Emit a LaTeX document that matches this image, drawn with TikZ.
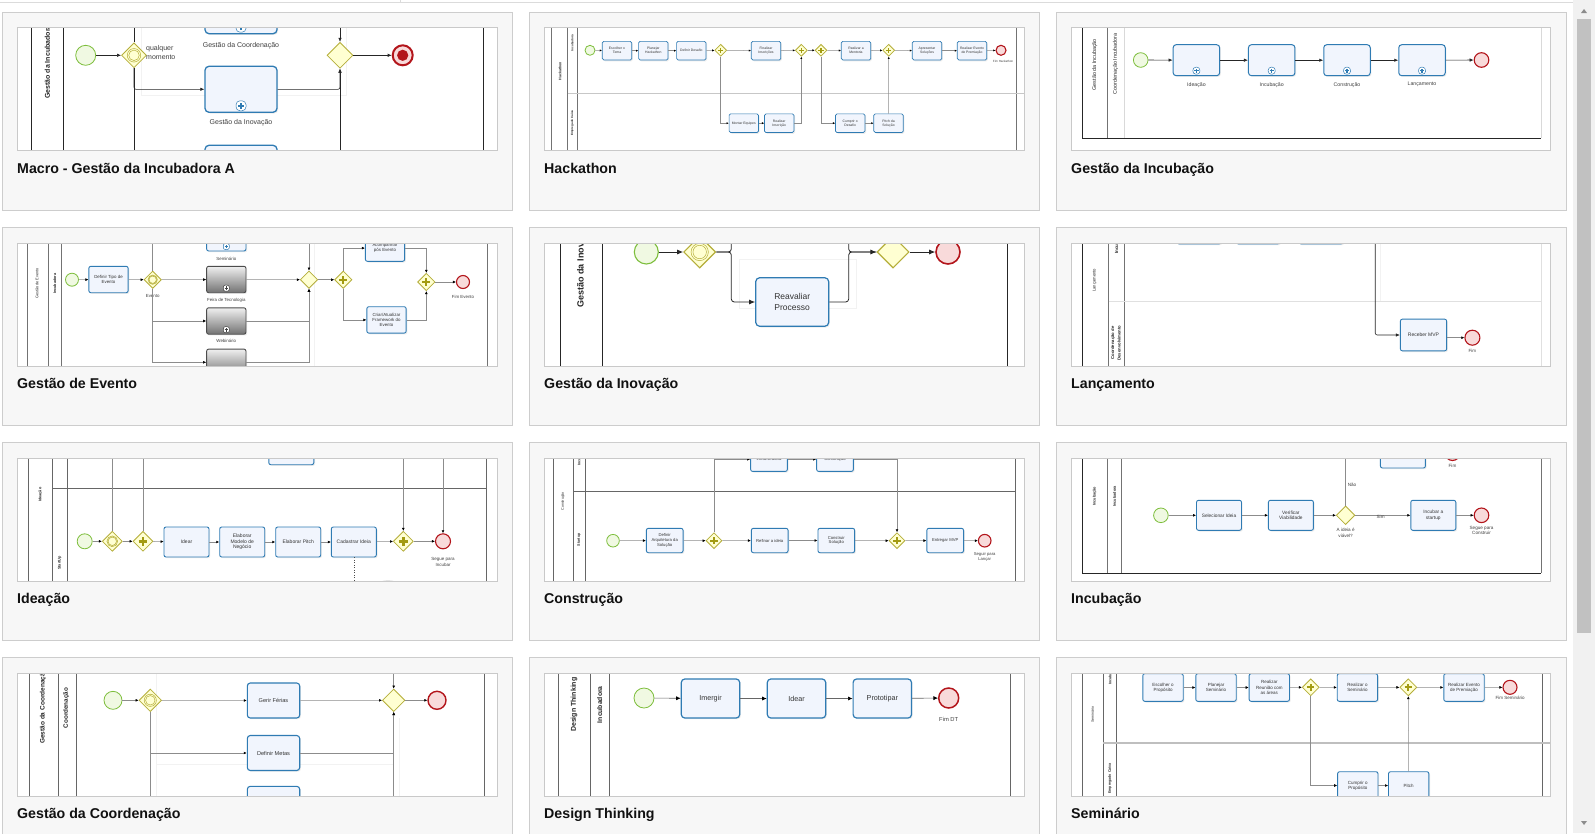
\documentclass[tikz,border=0pt]{standalone}
\usepackage{fontspec}
\setmainfont{Liberation Sans}
\usetikzlibrary{arrows.meta, positioning, shapes.geometric, shadows}
\definecolor{cardfill}{HTML}{F7F7F7}
\definecolor{cardline}{HTML}{CDCDCD}
\definecolor{thumbline}{HTML}{C9C9C9}
\definecolor{titlec}{HTML}{111111}
\definecolor{taskline}{HTML}{2F7BB3}
\definecolor{taskfill}{HTML}{F1F5FD}
\definecolor{gateline}{HTML}{B5AE3A}
\definecolor{gatefill}{HTML}{FFFFD2}
\definecolor{plusc}{HTML}{A39B12}
\definecolor{startline}{HTML}{7DBE3C}
\definecolor{startfill}{HTML}{F0F9E2}
\definecolor{endline}{HTML}{B3151B}
\definecolor{endfill}{HTML}{F8DADA}
\definecolor{scrolltrack}{HTML}{F1F1F1}
\definecolor{scrollthumb}{HTML}{C1C1C1}
\newcommand\fsz[2]{\fontsize{#1}{#2}\selectfont}

\begin{document}
\begin{tikzpicture}[x=1pt,y=-1pt,
  card/.style={draw=cardline, fill=cardfill, line width=0.8pt},
  thumbframe/.style={draw=thumbline, line width=0.8pt},
  cardtitle/.style={anchor=base west, inner sep=0pt, text=titlec, font=\bfseries\fsz{14.2}{16}},
  lane/.style={draw=black!85, line width=0.8pt},
  glane/.style={draw=black!55, line width=0.6pt},
  faint/.style={draw=black!5, line width=0.6pt},
  lanelab/.style={rotate=90, inner sep=0pt, align=center, text=black!85, font=\bfseries\fsz{4}{4.6}},
  task/.style={rectangle, rounded corners=2pt, draw=taskline, fill=taskfill, line width=0.9pt,
    inner sep=0.5pt, align=center, text=black!80, font=\fsz{4}{4.6},
    drop shadow={shadow xshift=1.2pt, shadow yshift=-1.2pt, opacity=0.15}},
  gtask/.style={task, draw=black!70, top color=black!6, bottom color=black!55},
  subc/.style 2 args={path picture={
    \draw[#2, fill=white, line width=0.5pt] ([xshift=-0.5*#1, yshift=1.5pt]path picture bounding box.south) rectangle ([xshift=0.5*#1, yshift=1.5pt+#1]path picture bounding box.south);
    \draw[#2, line width=0.18*#1] ([xshift=-0.3*#1, yshift=1.5pt+0.5*#1]path picture bounding box.south) -- ([xshift=0.3*#1, yshift=1.5pt+0.5*#1]path picture bounding box.south)
      ([yshift=1.5pt+0.2*#1]path picture bounding box.south) -- ([yshift=1.5pt+0.8*#1]path picture bounding box.south);}},
  sub/.style={subc={#1}{taskline}},
  gsub/.style={subc={#1}{black!75}},
  startev/.style={circle, draw=startline, fill=startfill, line width=0.8pt, minimum size=#1, inner sep=0pt},
  endev/.style={circle, draw=endline, fill=endfill, line width=1.1pt, minimum size=#1, inner sep=0pt},
  termev/.style={endev=#1, path picture={\fill[endline] (path picture bounding box.center) circle[radius=0.28*#1];}},
  gate/.style={diamond, draw=gateline, fill=gatefill, line width=0.8pt, minimum size=#1, inner sep=0pt},
  pgate/.style={gate=#1, path picture={\draw[plusc, line width=0.13*#1]
    ([xshift=-0.22*#1]path picture bounding box.center) -- ([xshift=0.22*#1]path picture bounding box.center)
    ([yshift=-0.22*#1]path picture bounding box.center) -- ([yshift=0.22*#1]path picture bounding box.center);}},
  egate/.style={gate=#1, path picture={\draw[gateline, line width=0.5pt] (path picture bounding box.center) circle[radius=0.27*#1] circle[radius=0.21*#1];}},
  evlab/.style={inner sep=0pt, align=center, text=black!75, font=\fsz{4.5}{5.2}},
  flow/.style={draw=black!85, line width=0.6pt, -{Latex[length=4pt,width=3.4pt]}},
  gflow/.style={draw=black!45, line width=0.5pt, -{Latex[length=3pt,width=2.8pt,color=black]}},
  wire/.style={draw=black!45, line width=0.5pt},
]
\useasboundingbox (0,0) rectangle (1595,833);
\clip (0,0) rectangle (1595,833);
\fill[white] (0,0) rectangle (1595,833);
\draw[black!14, line width=0.8pt] (0,2) -- (1573,2) (400,0) -- (400,2);
%
\foreach \cx/\cy/\ttl in {2/12/{Macro - Gestão da Incubadora A}, 529/12/Hackathon, 1056/12/{Gestão da Incubação},
  2/227/{Gestão de Evento}, 529/227/{Gestão da Inovação}, 1056/227/Lançamento,
  2/442/Ideação, 529/442/Construção, 1056/442/Incubação,
  2/657/{Gestão da Coordenação}, 529/657/{Design Thinking}, 1056/657/Seminário}{
  \draw[card] (\cx,\cy) rectangle ({\cx+510},{\cy+198});
  \node[cardtitle] (ttl\cx-\cy) at ({\cx+15},{\cy+161}) {\ttl};
}
%
% Macro - Gestão da Incubadora A
\begin{scope}[shift={(17,27)}, task/.append style={rounded corners=4pt, line width=1.3pt, minimum width=72pt, minimum height=46pt},
  evlab/.append style={font=\fsz{7}{8.5}}]
  \fill[white] (0,0) rectangle (480,123);
  \begin{scope}
    \clip (0,0) rectangle (480,123);
    \draw[faint] (124.3,-5) rectangle (329.3,68.7);
    \draw[lane] (14.3,0) -- (14.3,123) (46,0) -- (46,123) (466,0) -- (466,123);
    \node[lanelab, anchor=west, font=\bfseries\fsz{7}{8}] (ma) at (30.3,72) {Gestão da Incubadora};
    \node[startev=20pt] (m0) at (68.7,28.3) {};
    \node[egate=25pt] (mg1) at (117,28.3) {};
    \node[evlab, anchor=west, align=left] (mq) at (129,25.5) {qualquer\\momento};
    \node[task, sub=10pt] (mt1) at (224,-16.3) {};
    \node[evlab] (mt1l) at (224,18.3) {Gestão da Coordenação};
    \node[task, sub=10pt] (mt2) at (224,62.3) {};
    \node[evlab] (mt2l) at (224,96) {Gestão da Inovação};
    \node[task, sub=10pt] (mt3) at (224,141.3) {};
    \node[gate=26pt] (mg2) at (323,28.3) {};
    \node[termev=20pt, line width=2pt] (m9) at (385.7,28.3) {};
    \draw[flow] (m0) -- (mg1);
    \draw[flow] (mg1.north) |- (mt1.west);
    \draw[flow, rounded corners=2pt] (mg1.south) |- (mt2.west);
    \draw[flow] (mg1.south) |- (mt3.west);
    \draw[flow] (mt1.east) -| (mg2.north);
    \draw[flow, rounded corners=2pt] (mt2.east) -| (mg2.south);
    \draw[flow] (mt3.east) -| (mg2.south);
    \draw[flow] (mg2) -- (m9);
  \end{scope}
  \draw[thumbframe] (0,0) rectangle (480,123);
\end{scope}
%
% Hackathon
\begin{scope}[shift={(544,27)}, task/.append style={font=\fsz{3.4}{3.9}, line width=0.7pt, rounded corners=1.5pt, minimum width=29.4pt, minimum height=18.7pt},
  evlab/.append style={font=\fsz{3}{3.5}}, gflow/.append style={-{Latex[length=2.2pt,width=2.2pt,color=black]}}]
  \fill[white] (0,0) rectangle (480,123);
  \begin{scope}
    \clip (0,0) rectangle (480,123);
    \draw[glane] (7,0) -- (7,123) (23.7,0) -- (23.7,123) (33.3,0) -- (33.3,123) (472.7,0) -- (472.7,123);
    \draw[black!22, line width=1.3pt] (23.7,66.7) -- (480,66.7);
    \node[lanelab, font=\bfseries\fsz{3.6}{4}] (ha) at (16,44) {Hackathon};
    \node[lanelab, font=\bfseries\fsz{3}{3.5}] (hb) at (28.3,16) {Incubadora};
    \node[lanelab, font=\bfseries\fsz{3}{3.5}] (hc) at (28.3,96) {Empregado Caixa};
    \node[startev=10pt] (h0) at (46,23.3) {};
    \node[task] (h1) at (73,23.7) {Escolher o\\Tema};
    \node[task] (h2) at (109.3,23.7) {Planejar\\Hackathon};
    \node[task] (h3) at (147.3,23.7) {Definir Desafio};
    \node[pgate=12pt] (hg1) at (176.7,23.3) {};
    \node[task] (h4) at (222,23.7) {Finalizar\\Inscrições};
    \node[pgate=12pt] (hg2) at (257.3,23.3) {};
    \node[pgate=12pt] (hg3) at (277,23.3) {};
    \node[task] (h5) at (312,23.7) {Realizar a\\Mentoria};
    \node[pgate=12pt] (hg4) at (344.7,23.3) {};
    \node[task] (h6) at (383,23.7) {Apresentar\\Soluções};
    \node[task] (h7) at (428,23.7) {Realizar Evento\\de Premiação};
    \node[endev=10pt] (h9) at (457,23.3) {};
    \node[evlab] (h9l) at (459,34) {Fim Hackathon};
    \node[task] (h8) at (199.8,96.2) {Montar Equipes};
    \node[task] (h10) at (235.2,96.2) {Realizar\\Inscrição};
    \node[task] (h11) at (306.2,96.2) {Cumprir o\\Desafio};
    \node[task] (h12) at (344.5,96.2) {Pitch da\\Solução};
    \draw[gflow] (h0) -- (h1);
    \draw[gflow] (h1) -- (h2);
    \draw[gflow] (h2) -- (h3);
    \draw[gflow] (h3) -- (hg1);
    \draw[gflow] (hg1) -- (h4);
    \draw[gflow] (h4) -- (hg2);
    \draw[gflow] (hg2) -- (hg3);
    \draw[gflow] (hg3) -- (h5);
    \draw[gflow] (h5) -- (hg4);
    \draw[gflow] (hg4) -- (h6);
    \draw[gflow] (h6) -- (h7);
    \draw[gflow] (h7) -- (h9);
    \draw[gflow] (hg1.south) |- (h8.west);
    \draw[gflow] (h8) -- (h10);
    \draw[gflow] (h10.east) -| (hg2.south);
    \draw[gflow] (hg3.south) |- (h11.west);
    \draw[gflow] (h11) -- (h12);
    \draw[gflow] (h12.north) -- (hg4.south);
  \end{scope}
  \draw[thumbframe] (0,0) rectangle (480,123);
\end{scope}
%
% Gestão da Incubação
\begin{scope}[shift={(1071,27)}, task/.append style={rounded corners=3pt, line width=1pt, minimum width=46.5pt, minimum height=31pt},
  evlab/.append style={font=\fsz{5.2}{6}}]
  \fill[white] (0,0) rectangle (479,123);
  \begin{scope}
    \clip (0,0) rectangle (479,123);
    \draw[lane] (11.5,0) -- (11.5,111) -- (470,111);
    \draw[glane] (36.6,0) -- (36.6,111);
    \draw[faint, draw=black!15] (53,0) -- (53,111) (470,0) -- (470,111);
    \node[lanelab, font=\fsz{5.4}{6}] (ua) at (23.7,37.7) {Gestão da Incubação};
    \node[lanelab, font=\fsz{5.4}{6}] (ub) at (44.6,36.7) {Coordenação Incubadora};
    \node[startev=14.6pt] (u0) at (69.7,33) {};
    \node[task, sub=7pt] (u1) at (125.4,33.2) {};
    \node[evlab] (u1l) at (125.4,57.7) {Ideação};
    \node[task, sub=7pt] (u2) at (200.7,33.2) {};
    \node[evlab] (u2l) at (200.7,57.7) {Incubação};
    \node[task, sub=7pt] (u3) at (276,33.2) {};
    \node[evlab] (u3l) at (276,57.7) {Construção};
    \node[task, sub=7pt] (u4) at (351,33.2) {};
    \node[evlab] (u4l) at (351,57.7) {Lançamento};
    \node[endev=14.6pt] (u9) at (410.5,33) {};
    \draw[flow] (u0) -- (u1);
    \draw[flow] (u1) -- (u2);
    \draw[flow] (u2) -- (u3);
    \draw[flow] (u3) -- (u4);
    \draw[flow] (u4) -- (u9);
  \end{scope}
  \draw[thumbframe] (0,0) rectangle (479,123);
\end{scope}
%
% Gestão de Evento
\begin{scope}[shift={(17,243)}, task/.append style={font=\fsz{4.4}{5}, minimum width=39.3pt, minimum height=26.4pt},
  evlab/.append style={font=\fsz{4.4}{5}}]
  \fill[white] (0,0) rectangle (480,123);
  \begin{scope}
    \clip (0,0) rectangle (480,123);
    \draw[glane] (10,0) -- (10,123) (31.7,0) -- (31.7,123) (44.3,0) -- (44.3,123) (470,0) -- (470,123);
    \draw[faint] (297.7,0) -- (297.7,123);
    \node[lanelab, font=\fsz{3.8}{4.4}] (ea) at (20,40.7) {Gestão de Evento};
    \node[lanelab, font=\bfseries\fsz{3.8}{4.4}] (eb) at (37.7,40.7) {Incubadora};
    \node[startev=13pt] (e0) at (55,36.7) {};
    \node[task] (e1) at (91.5,36.5) {Definir Tipo de\\Evento};
    \node[egate=17.4pt] (eg) at (135.7,36.7) {};
    \node[evlab] (egl) at (135.7,52.7) {Evento};
    \node[task, sub=6pt] (es1) at (209.3,-5.2) {};
    \node[evlab] (es1l) at (209.3,15.7) {Seminário};
    \node[gtask, gsub=6pt] (es2) at (209.3,36.5) {};
    \node[evlab] (es2l) at (209.3,57.3) {Feira de Tecnologia};
    \node[gtask, gsub=6pt] (es3) at (209.3,78) {};
    \node[evlab] (es3l) at (209.3,98.3) {Webinário};
    \node[gtask, gsub=6pt] (es4) at (209.3,119.3) {};
    \node[gate=17.4pt] (ex) at (292,36.7) {};
    \node[pgate=17.4pt] (ep1) at (326.3,36.7) {};
    \node[task] (ev1) at (368,5.1) {Acompanhar\\pós Evento};
    \node[task] (ev2) at (369.5,76.9) {Criar/Atualizar\\Framework do\\Evento};
    \node[pgate=17.4pt] (ep2) at (409.3,39) {};
    \node[endev=13pt] (e9) at (446,39) {};
    \node[evlab] (e9l) at (446,54) {Fim Evento};
    \draw[gflow] (e0) -- (e1);
    \draw[gflow] (e1) -- (eg);
    \draw[gflow] (eg) -- (es2);
    \draw[gflow] (eg.north) |- (es1.west);
    \draw[gflow] (eg.south) |- (es3.west);
    \draw[gflow] (eg.south) |- (es4.west);
    \draw[gflow] (es1.east) -| (ex.north);
    \draw[gflow] (es2) -- (ex);
    \draw[gflow] (es3.east) -| (ex.south);
    \draw[gflow] (es4.east) -| (ex.south);
    \draw[gflow] (ex) -- (ep1);
    \draw[gflow] (ep1.north) |- (ev1.west);
    \draw[gflow] (ep1.south) |- (ev2.west);
    \draw[gflow] (ev1.east) -| (ep2.north);
    \draw[gflow] (ev2.east) -| (ep2.south);
    \draw[gflow] (ep2) -- (e9);
  \end{scope}
  \draw[thumbframe] (0,0) rectangle (480,123);
\end{scope}
%
% Gestão da Inovação
\begin{scope}[shift={(544,243)}, task/.append style={rounded corners=4pt, line width=1.2pt, font=\fsz{8.5}{11}},
  flow/.append style={line width=0.8pt, -{Latex[length=6pt,width=5pt]}}]
  \fill[white] (0,0) rectangle (480,123);
  \begin{scope}
    \clip (0,0) rectangle (480,123);
    \draw[faint] (195.7,16.7) rectangle (312.3,65.7);
    \draw[lane] (16.7,0) -- (16.7,123) (58,0) -- (58,123) (463,0) -- (463,123);
    \node[lanelab, anchor=west, font=\bfseries\fsz{9}{10}] (ia) at (37.3,64.7) {Gestão da Inovação};
    \node[startev=24pt, line width=1.1pt] (i0) at (102.3,9) {};
    \node[egate=32pt, line width=1.1pt] (ig) at (155.7,9) {};
    \node[task, minimum width=73pt, minimum height=48.6pt] (i1) at (248.2,59) {Reavaliar\\Processo};
    \node[gate=32pt, line width=1.1pt] (ix) at (349,9) {};
    \node[endev=24pt, line width=1.6pt] (i9) at (404,9) {};
    \coordinate (ij1) at (187.3,9);
    \coordinate (ij2) at (304.7,9);
    \coordinate (it1) at (187.3,-10);
    \coordinate (it2) at (304.7,-10);
    \draw[flow] (i0) -- (ig);
    \draw[flow, rounded corners=3pt] (ig.east) -- (ij1) |- (i1.west);
    \draw[lane, line width=0.8pt, rounded corners=3pt] (ig.east) -| (it1);
    \draw[flow, rounded corners=3pt] (i1.east) -| (ij2) -- (ix.west);
    \draw[lane, line width=0.8pt, rounded corners=3pt] (it2) |- (ix.west);
    \draw[flow] (ix) -- (i9);
  \end{scope}
  \draw[thumbframe] (0,0) rectangle (480,123);
\end{scope}
%
% Lançamento
\begin{scope}[shift={(1071,243)}, task/.append style={font=\fsz{5}{5.6}}]
  \fill[white] (0,0) rectangle (479,123);
  \begin{scope}
    \clip (0,0) rectangle (479,123);
    \draw[lane] (11.5,0) -- (11.5,123);
    \draw[glane] (37.6,0) -- (37.6,123) (53,0) -- (53,123);
    \draw[faint, draw=black!12] (470,0) -- (470,123) (37.6,58.3) -- (470,58.3);
    \draw[faint] (309,0) -- (309,58.3);
    \node[lanelab, font=\fsz{4.2}{4.8}] (la) at (23.7,37.3) {Lançamento};
    \node[lanelab, anchor=west, font=\bfseries\fsz{4.5}{5}] (lb) at (45.6,10.7) {Incubadora};
    \node[lanelab, font=\bfseries\fsz{4.2}{6.4}] (lc) at (44.8,100) {Coordenação de\\Desenvolvimento};
    \node[task, minimum width=43.5pt, minimum height=30pt] (lt1) at (128,-14) {};
    \node[task, minimum width=43pt, minimum height=30pt] (lt2) at (187,-14) {};
    \node[task, minimum width=43.6pt, minimum height=30pt] (lt3) at (250,-14) {};
    \node[task, minimum width=46.3pt, minimum height=31.7pt] (lr) at (352.5,92) {Receber MVP};
    \node[endev=15pt] (l9) at (401.4,94.7) {};
    \node[evlab] (l9l) at (401.4,108.3) {Fim};
    \coordinate (ltop) at (304.2,-10);
    \draw[flow, rounded corners=2pt] (ltop) |- (lr.west);
    \draw[gflow] (lr.east |- l9) -- (l9);
  \end{scope}
  \draw[thumbframe] (0,0) rectangle (479,123);
\end{scope}
%
% Ideação
\begin{scope}[shift={(17,458)}, task/.append style={minimum width=45pt, minimum height=30pt, font=\fsz{5}{5.6}}]
  \fill[white] (0,0) rectangle (480,123);
  \begin{scope}
    \clip (0,0) rectangle (480,123);
    \draw[glane, draw=black!60] (11,0) -- (11,123) (35.3,0) -- (35.3,123) (50.3,0) -- (50.3,123) (469.3,0) -- (469.3,123) (35.3,30) -- (469.3,30);
    \fill[black!10] (371,130) ellipse[x radius=12, y radius=8];
    \node[lanelab, font=\bfseries\fsz{3.8}{4.4}] (da) at (23.3,36.7) {Ideação};
    \node[lanelab, font=\bfseries\fsz{3.8}{4.4}] (db) at (42.7,105) {StartUp};
    \node[task] (dt0) at (274.3,-8.3) {};
    \node[startev=15pt] (d0) at (67.7,83.3) {};
    \node[egate=20pt] (dg1) at (95.3,83.3) {};
    \node[pgate=20pt] (dg2) at (126,83.3) {};
    \node[task] (d1) at (169.5,84) {Idear};
    \node[task] (d2) at (225.2,84) {Elaborar\\Modelo de\\Negócio};
    \node[task] (d3) at (281.2,84) {Elaborar Pitch};
    \node[task] (d4) at (336.8,84) {Cadastrar Ideia};
    \node[pgate=20pt] (dg3) at (386.3,83.3) {};
    \node[endev=15pt] (d9) at (426,83.3) {};
    \node[evlab] (d9l) at (426,104) {Segue para\\Incubar};
    \coordinate (dtp1) at (95.3,-10);
    \coordinate (dtp2) at (126,-10);
    \coordinate (dtp3) at (386.3,-10);
    \coordinate (dtp4) at (426,-10);
    \coordinate (dbot) at (336.8,130);
    \draw[wire] (dtp1) -- (dg1.north);
    \draw[wire] (dtp2) -- (dg2.north);
    \draw[gflow] (dtp3) -- (dg3.north);
    \draw[gflow] (dtp4) -- (d9.north);
    \draw[gflow] (d0) -- (dg1);
    \draw[gflow] (dg1) -- (dg2);
    \draw[gflow] (dg2) -- (d1);
    \draw[gflow] (d1) -- (d2);
    \draw[gflow] (d2) -- (d3);
    \draw[gflow] (d3) -- (d4);
    \draw[gflow] (d4) -- (dg3);
    \draw[gflow] (dg3) -- (d9);
    \draw[wire, dotted, draw=black!70] (d4.south) -- (dbot);
  \end{scope}
  \draw[thumbframe] (0,0) rectangle (480,123);
\end{scope}
%
% Construção
\begin{scope}[shift={(544,458)}, task/.append style={minimum width=36.7pt, minimum height=24.4pt, font=\fsz{4.2}{4.8}},
  evlab/.append style={font=\fsz{4.2}{4.8}}]
  \fill[white] (0,0) rectangle (480,123);
  \begin{scope}
    \clip (0,0) rectangle (480,123);
    \draw[glane, draw=black!60] (9,0) -- (9,123) (29,0) -- (29,123) (41,0) -- (41,123) (471.3,0) -- (471.3,123) (29,33.3) -- (471.3,33.3);
    \node[lanelab, font=\fsz{3.6}{4.2}] (ca) at (19,43.3) {Construção};
    \node[lanelab, anchor=west, font=\bfseries\fsz{3.6}{4.2}] (cb) at (35,8) {Incubadora};
    \node[lanelab, font=\bfseries\fsz{3.6}{4.2}] (cc) at (35,81.7) {Startup};
    \node[task] (c5) at (225,1.2) {Infraestrutura};
    \node[task] (c6) at (291,1.2) {Construção};
    \node[startev=12.6pt] (c0) at (69,82.7) {};
    \node[task] (c1) at (120.7,82.5) {Definir\\Arquitetura da\\Solução};
    \node[pgate=16pt] (cg1) at (170,82.7) {};
    \node[task] (c2) at (225.7,82.5) {Refinar a ideia};
    \node[task] (c3) at (292.3,82.5) {Construir\\Solução};
    \node[pgate=16pt] (cg2) at (353,82.7) {};
    \node[task] (c4) at (401.2,82.5) {Entregar MVP};
    \node[endev=12.6pt] (c9) at (440.7,82.7) {};
    \node[evlab] (c9l) at (440.7,99) {Seguir para\\Lançar};
    \draw[gflow] (c0) -- (c1);
    \draw[gflow] (c1) -- (cg1);
    \draw[gflow] (cg1) -- (c2);
    \draw[gflow] (c2) -- (c3);
    \draw[gflow] (c3) -- (cg2);
    \draw[gflow] (cg2) -- (c4);
    \draw[gflow] (c4) -- (c9);
    \draw[gflow] (cg1.north) |- (c5.west);
    \draw[gflow] (c5) -- (c6);
    \draw[gflow] (c6.east) -| (cg2.north);
  \end{scope}
  \draw[thumbframe] (0,0) rectangle (480,123);
\end{scope}
%
% Incubação
\begin{scope}[shift={(1071,458)}, task/.append style={minimum width=45pt, minimum height=30pt, font=\fsz{4.8}{5.6}},
  evlab/.append style={font=\fsz{4.6}{5.4}}]
  \fill[white] (0,0) rectangle (479,123);
  \begin{scope}
    \clip (0,0) rectangle (479,123);
    \draw[lane] (11.5,0) -- (11.5,115) -- (470.4,115);
    \draw[glane] (35.9,0) -- (35.9,115) (50.5,0) -- (50.5,115) (470.4,0) -- (470.4,115);
    \node[lanelab, font=\bfseries\fsz{3.8}{4.4}] (na) at (23.7,38.3) {Incubação};
    \node[lanelab, font=\bfseries\fsz{3.8}{4.4}] (nb) at (43.6,38.3) {Incubadora};
    \node[task] (n5) at (331.9,-5) {};
    \node[endev=15pt] (n6) at (381.5,-5) {};
    \node[evlab] (n6l) at (381.5,8.3) {Fim};
    \node[startev=14.6pt] (n0) at (89.9,57.3) {};
    \node[task] (n1) at (148,57.3) {Selecionar Ideia};
    \node[task] (n2) at (219.9,57.3) {Verificar\\Viabilidade};
    \node[gate=18.6pt] (nx) at (274.6,57.3) {};
    \node[evlab] (nxl) at (274.6,75) {A ideia é\\viável?};
    \node[task] (n3) at (362.3,57.3) {Incubar a\\startup};
    \node[endev=14.6pt] (n9) at (410.5,57.3) {};
    \node[evlab] (n9l) at (410.5,72.7) {Segue para\\Construir};
    \draw[gflow] (n0) -- (n1);
    \draw[gflow] (n1) -- (n2);
    \draw[gflow] (n2) -- (nx);
    \draw[gflow] (nx.north) |- (n5.west) node[evlab, pos=0.2, anchor=west, xshift=2pt] (nnao) {Não};
    \draw[gflow] (nx) -- (n3) node[evlab, pos=0.46, anchor=north, yshift=0.5pt] (nsim) {Sim};
    \draw[gflow] (n3) -- (n9);
  \end{scope}
  \draw[thumbframe] (0,0) rectangle (479,123);
\end{scope}
%
% Gestão da Coordenação
\begin{scope}[shift={(17,673)}, task/.append style={rounded corners=3pt, line width=1.1pt, minimum width=52.4pt, minimum height=35pt, font=\fsz{5.6}{6.4}}]
  \fill[white] (0,0) rectangle (480,123);
  \begin{scope}
    \clip (0,0) rectangle (480,123);
    \draw[faint] (139.3,0) -- (139.3,123) (382,45) -- (382,123) (139.3,91.7) -- (376.7,91.7);
    \draw[glane, draw=black!60] (12,0) -- (12,123) (41,0) -- (41,123) (59.3,0) -- (59.3,123) (467,0) -- (467,123);
    \node[lanelab, anchor=west, font=\bfseries\fsz{6.5}{7}] (ka) at (26,71) {Gestão da Coordenação};
    \node[lanelab, font=\bfseries\fsz{6.3}{7}] (kb) at (49.3,35) {Coordenação};
    \node[startev=18pt] (k0) at (96,27.3) {};
    \node[egate=22.6pt] (kg) at (133.3,27.3) {};
    \node[task] (k1) at (256.5,27.5) {Gerir Férias};
    \node[task] (k2) at (256.5,80) {Definir Metas};
    \node[task] (k3) at (256.5,130.8) {};
    \node[gate=22.6pt] (kx) at (376.7,27.3) {};
    \node[endev=18pt, line width=1.4pt] (k9) at (420,27.3) {};
    \coordinate (ktop) at (376.7,-10);
    \draw[gflow] (k0) -- (kg);
    \draw[gflow] (kg) -- (k1);
    \draw[gflow] (k1) -- (kx);
    \draw[gflow] (kx) -- (k9);
    \draw[gflow] (kg.south) |- (k2.west);
    \draw[gflow] (kg.south) |- (k3.west);
    \draw[gflow] (k2.east) -| (kx.south);
    \draw[gflow] (k3.east) -| (kx.south);
    \draw[gflow] (ktop) -- (kx.north);
  \end{scope}
  \draw[thumbframe] (0,0) rectangle (480,123);
\end{scope}
%
% Design Thinking
\begin{scope}[shift={(544,673)}, task/.append style={rounded corners=3.5pt, line width=1.2pt, minimum width=58.4pt, minimum height=39pt, font=\fsz{7.2}{8}},
  gflow/.append style={draw=black!60, line width=0.6pt, -{Latex[length=4.5pt,width=4pt,color=black]}}]
  \fill[white] (0,0) rectangle (480,123);
  \begin{scope}
    \clip (0,0) rectangle (480,123);
    \draw[glane, draw=black!60] (14,0) -- (14,123) (46,0) -- (46,123) (65.3,0) -- (65.3,123) (466.3,0) -- (466.3,123);
    \node[lanelab, font=\bfseries\fsz{7}{8}] (ga) at (30,31.7) {Design Thinking};
    \node[lanelab, font=\bfseries\fsz{6.8}{7.5}] (gb) at (55.7,31.7) {Incubadora};
    \node[startev=20pt] (g0) at (100,25) {};
    \node[task] (g1) at (166.5,25.5) {Imergir};
    \node[task] (g2) at (252.5,25.5) {Idear};
    \node[task] (g3) at (338.3,25.5) {Prototipar};
    \node[endev=20pt, line width=1.5pt] (g9) at (404.7,25) {};
    \node[evlab, font=\fsz{5.8}{6.5}] (g9l) at (404.7,46.7) {Fim DT};
    \draw[gflow] (g0) -- (g1);
    \draw[gflow] (g1) -- (g2);
    \draw[gflow] (g2) -- (g3);
    \draw[gflow] (g3) -- (g9);
  \end{scope}
  \draw[thumbframe] (0,0) rectangle (480,123);
\end{scope}
%
% Seminário
\begin{scope}[shift={(1071,673)}, task/.append style={minimum width=40.4pt, minimum height=27.6pt, font=\fsz{4.5}{5.2}},
  evlab/.append style={font=\fsz{4.5}{5.2}}]
  \fill[white] (0,0) rectangle (479,123);
  \begin{scope}
    \clip (0,0) rectangle (479,123);
    \draw[glane, draw=black!60] (11.1,0) -- (11.1,123) (32,0) -- (32,123) (45.3,0) -- (45.3,123) (471.4,0) -- (471.4,123);
    \draw[black!25, line width=1.2pt] (32,70) -- (479,70);
    \node[lanelab, font=\fsz{3.6}{4.2}] (sa) at (21.6,41.7) {Seminário};
    \node[lanelab, anchor=west, font=\bfseries\fsz{3.6}{4.2}] (sb) at (39,12) {Incubadora};
    \node[lanelab, anchor=east, font=\bfseries\fsz{3.6}{4.2}] (sc) at (39,90) {Empregado Caixa};
    \node[task] (s1) at (92,14.5) {Escolher o\\Propósito};
    \node[task] (s2) at (145,14.5) {Planejar\\Seminário};
    \node[task] (s3) at (198.3,14.5) {Realizar\\Reunião com\\as áreas};
    \node[pgate=17pt] (sg1) at (239.7,14.3) {};
    \node[task] (s4) at (286.4,14.5) {Realizar o\\Seminário};
    \node[pgate=17pt] (sg2) at (337.3,14.3) {};
    \node[task] (s5) at (393,14.5) {Realizar Evento\\de Premiação};
    \node[endev=14pt] (s9) at (439,14.3) {};
    \node[evlab] (s9l) at (439,25.3) {Fim Seminário};
    \node[task] (s6) at (286.8,112.5) {Cumprir o\\Propósito};
    \node[task] (s7) at (337.7,112.5) {Pitch};
    \draw[gflow] (s1) -- (s2);
    \draw[gflow] (s2) -- (s3);
    \draw[gflow] (s3) -- (sg1);
    \draw[gflow] (sg1) -- (s4);
    \draw[gflow] (s4) -- (sg2);
    \draw[gflow] (sg2) -- (s5);
    \draw[gflow] (s5) -- (s9);
    \draw[gflow] (sg1.south) |- (s6.west);
    \draw[gflow] (s6) -- (s7);
    \draw[gflow] (s7.north) -- (sg2.south);
  \end{scope}
  \draw[thumbframe] (0,0) rectangle (479,123);
\end{scope}
%
% scroll bar
\fill[scrolltrack] (1573,0) rectangle (1595,833);
\fill[scrollthumb] (1577,19) rectangle (1591,633);
\fill[black!45] (1581,13) -- (1587,13) -- (1584,9) -- cycle;
\fill[black!45] (1581,821) -- (1587,821) -- (1584,825) -- cycle;
\end{tikzpicture}
\end{document}
